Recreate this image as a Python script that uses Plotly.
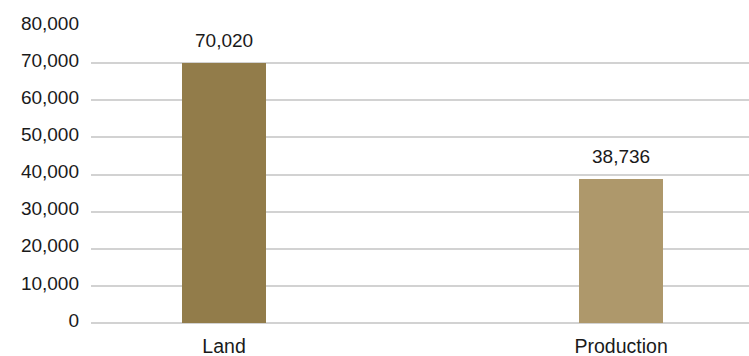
import plotly.graph_objects as go

categories = ["Land", "Production"]
values = [70020, 38736]
colors = ["#927c4a", "#ae986b"]
y_ticks = [0, 10000, 20000, 30000, 40000, 50000, 60000, 70000, 80000]
y_tick_labels = [f"{v:,}" for v in y_ticks]

font_family = "Liberation Sans, Arial, sans-serif"
text_color = "#1a1a1a"

fig = go.Figure()
fig.add_trace(go.Bar(
    x=categories,
    y=values,
    marker=dict(color=colors, line=dict(width=0)),
    width=0.212,
    hoverinfo="skip",
))

for cat, val in zip(categories, values):
    fig.add_annotation(
        x=cat, y=val, text=f"{val:,}", showarrow=False,
        yanchor="bottom", yshift=10,
        font=dict(family=font_family, size=19, color=text_color),
    )

fig.update_layout(
    width=749, height=356,
    margin=dict(l=91, r=0, t=26, b=33),
    paper_bgcolor="white", plot_bgcolor="white",
    showlegend=False,
    font=dict(family=font_family, size=19, color=text_color),
    bargap=0,
)
fig.update_xaxes(
    type="category",
    range=[-0.335, 1.322],
    showgrid=False, showline=False, zeroline=False,
    ticks="", ticklabelstandoff=9,
    tickfont=dict(family=font_family, size=19.5, color=text_color),
)
fig.update_yaxes(
    range=[0, 80000],
    tickvals=y_ticks, ticktext=y_tick_labels,
    showgrid=True, gridcolor="#d2d2d2", gridwidth=1.5,
    zeroline=True, zerolinecolor="#d2d2d2", zerolinewidth=1.5,
    showline=False, ticks="", ticklabelstandoff=11, ticklabelshift=-3,
    tickfont=dict(family=font_family, size=19, color=text_color),
)

fig.write_html("out.html")
